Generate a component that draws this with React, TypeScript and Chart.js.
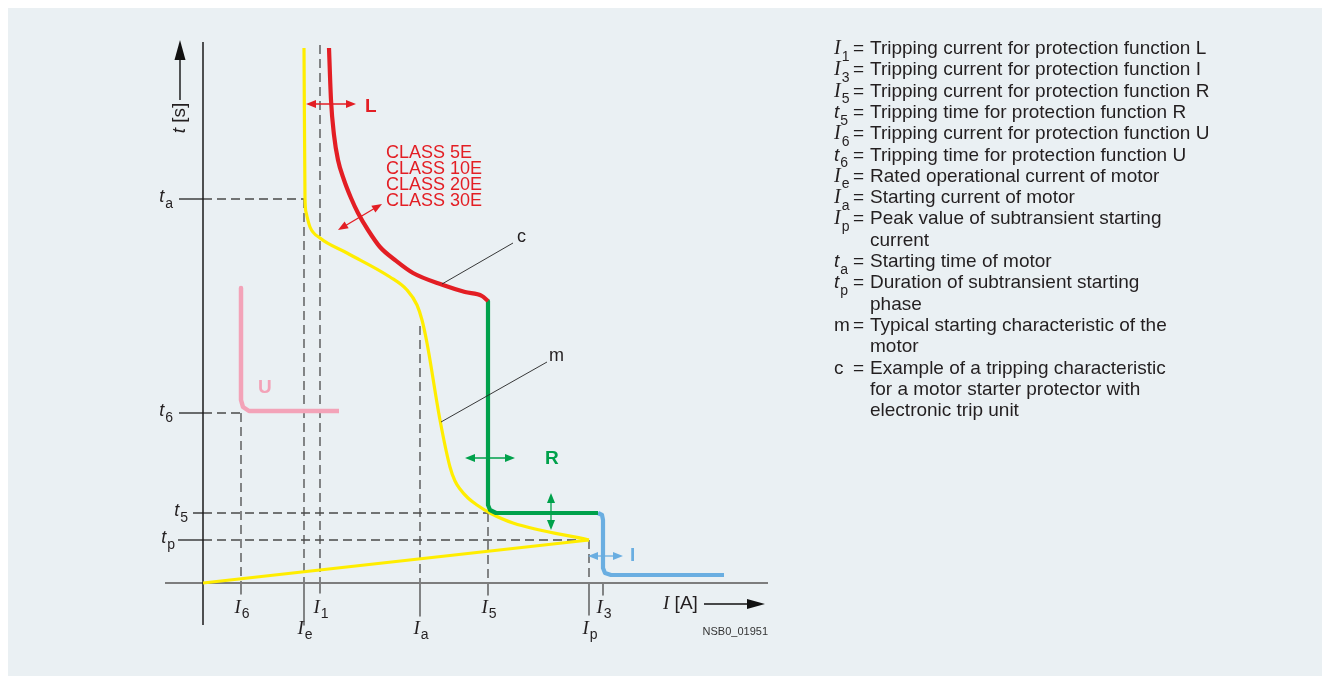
import { useEffect, useRef } from "react";
import { Chart, registerables } from "chart.js";

Chart.register(...registerables);

// ---------- data (schematic units: x = current, y = time; origin at axis crossing) ----------
const motorRise: number[][] = [[0, 0], [386, 43]];
const motorCurve: number[][] = [
  [386, 43], [310, 60], [287, 70], [274, 78], [265, 85], [257, 94], [252, 102], [247, 116],
  [237, 163], [224, 240], [219, 263], [214, 278], [204, 293], [187, 306], [144, 330],
  [117, 345], [107, 356], [103, 371], [102, 385], [101, 535],
];
const tripL: number[][] = [
  [126, 535], [128, 483], [131, 448], [135, 423], [141, 403], [148, 385], [155, 370],
  [165, 353], [177, 336], [192, 323], [210, 310], [240, 298], [262, 291], [279, 287], [285, 282],
];
const tripR: number[][] = [[285, 282], [285, 78], [287, 73], [293, 70], [395, 70]];
const tripI: number[][] = [[395, 70], [399, 68], [400, 63], [400, 15], [402, 10], [408, 8], [521, 8]];
const tripU: number[][] = [[38, 295], [38, 183], [40, 176], [46, 172], [136, 172]];

const xMarkLabels = ["6", "e", "1", "a", "5", "p", "3"];
const xMarkValues = [38, 101, 117, 217, 285, 386, 400];
const xGuideTops = [170, 384, 538, 257, 70, 43, 0];
const xTickDepth = [-11, -42, -10, -33, -12, -32, -12];
const xLabelRow = [0, 1, 0, 1, 0, 1, 0];

const yMarkLabels = ["a", "6", "5", "p"];
const yMarkValues = [384, 170, 70, 43];
const yGuideEnds = [101, 38, 285, 386];
const yTickStart = [-24, -24, -10, -25];
const yLabelRight = [-30, -30, -15, -28];

const classLabels = ["CLASS 5E", "CLASS 10E", "CLASS 20E", "CLASS 30E"];

const legendRows: string[][] = [
  ["I", "1", "Tripping current for protection function L"],
  ["I", "3", "Tripping current for protection function I"],
  ["I", "5", "Tripping current for protection function R"],
  ["t", "5", "Tripping time for protection function R"],
  ["I", "6", "Tripping current for protection function U"],
  ["t", "6", "Tripping time for protection function U"],
  ["I", "e", "Rated operational current of motor"],
  ["I", "a", "Starting current of motor"],
  ["I", "p", "Peak value of subtransient starting"],
  ["", "", "current"],
  ["t", "a", "Starting time of motor"],
  ["t", "p", "Duration of subtransient starting"],
  ["", "", "phase"],
  ["m", "", "Typical starting characteristic of the"],
  ["", "", "motor"],
  ["c", "", "Example of a tripping characteristic"],
  ["", "", "for a motor starter protector with"],
  ["", "", "electronic trip unit"],
];

// ---------- styles ----------
const BG = "#eaf0f3";
const RED = "#e31e24";
const GREEN = "#00a14b";
const BLUE = "#6aaee1";
const PINK = "#f3a3b8";
const YELLOW = "#ffed00";
const DASH = "#4a4a4a";
const TEXT = "#231f20";
const SANS = '"Liberation Sans", Arial, sans-serif';
const SERIF = '"Liberation Serif", "Times New Roman", serif';

const pts = (a: number[][]) => a.map(([x, y]) => ({ x, y }));

function seg(data: number[][], color: string, width: number, extra: any = {}) {
  return {
    data: pts(data),
    showLine: true,
    pointRadius: 0,
    borderColor: color,
    backgroundColor: color,
    borderWidth: width,
    tension: 0,
    borderJoinStyle: "round",
    ...extra,
  };
}

function buildDatasets() {
  const ds: any[] = [];
  // dashed guides
  xMarkValues.forEach((x, i) => {
    if (xGuideTops[i] > 0) ds.push(seg([[x, xGuideTops[i]], [x, 0]], DASH, 1.3, { borderDash: [9, 5], order: 20 }));
    ds.push(seg([[x, 0], [x, xTickDepth[i]]], DASH, 1.3, { order: 20 }));
  });
  yMarkValues.forEach((y, i) => {
    ds.push(seg([[0, y], [yGuideEnds[i], y]], DASH, 1.3, { borderDash: [9, 5], order: 20 }));
    ds.push(seg([[yTickStart[i], y], [0, y]], "#222", 1.3, { order: 20 }));
  });
  // axes
  ds.push(seg([[0, -42], [0, 541]], "#1a1a1a", 1.5, { order: 15 }));
  ds.push(seg([[-38, 0], [565, 0]], "#7d7d7d", 2, { order: 15 }));
  // leader lines
  ds.push(seg([[239, 299], [310, 340]], "#222", 0.9, { order: 1 }));
  ds.push(seg([[238, 161], [344, 221]], "#222", 0.9, { order: 1 }));
  // curves
  ds.push(seg(motorRise, YELLOW, 3.2, { order: 5 }));
  ds.push(seg(motorCurve, YELLOW, 3.2, { order: 5, cubicInterpolationMode: "monotone" }));
  ds.push(seg(tripU, PINK, 4.5, { order: 4 }));
  ds.push(seg(tripL, RED, 4.2, { order: 3, cubicInterpolationMode: "monotone" }));
  ds.push(seg(tripR, GREEN, 4.2, { order: 3 }));
  ds.push(seg(tripI, BLUE, 4.2, { order: 3 }));
  return ds;
}

// ---------- drawing helpers ----------
function head(ctx: CanvasRenderingContext2D, x1: number, y1: number, x2: number, y2: number, len: number, half: number) {
  const a = Math.atan2(y2 - y1, x2 - x1);
  ctx.beginPath();
  ctx.moveTo(x2, y2);
  ctx.lineTo(x2 - len * Math.cos(a) + half * Math.sin(a), y2 - len * Math.sin(a) - half * Math.cos(a));
  ctx.lineTo(x2 - len * Math.cos(a) - half * Math.sin(a), y2 - len * Math.sin(a) + half * Math.cos(a));
  ctx.closePath();
  ctx.fill();
}

function dblArrow(ctx: CanvasRenderingContext2D, x1: number, y1: number, x2: number, y2: number, color: string) {
  ctx.strokeStyle = color;
  ctx.fillStyle = color;
  ctx.lineWidth = 1.3;
  const a = Math.atan2(y2 - y1, x2 - x1);
  ctx.beginPath();
  ctx.moveTo(x1 + 6 * Math.cos(a), y1 + 6 * Math.sin(a));
  ctx.lineTo(x2 - 6 * Math.cos(a), y2 - 6 * Math.sin(a));
  ctx.stroke();
  head(ctx, x1, y1, x2, y2, 10, 4);
  head(ctx, x2, y2, x1, y1, 10, 4);
}

function sym(
  ctx: CanvasRenderingContext2D, main: string, sub: string, x: number, y: number,
  align: "left" | "center" | "right", mainFont: string, subFont: string, subDy: number
) {
  ctx.textAlign = "left";
  ctx.font = mainFont;
  const w1 = ctx.measureText(main).width;
  ctx.font = subFont;
  const w2 = sub ? ctx.measureText(sub).width : 0;
  const gap = sub ? 1 : 0;
  const total = w1 + gap + w2;
  const x0 = align === "center" ? x - total / 2 : align === "right" ? x - total : x;
  ctx.font = mainFont;
  ctx.fillText(main, x0, y);
  if (sub) {
    ctx.font = subFont;
    ctx.fillText(sub, x0 + w1 + gap, y + subDy);
  }
}

const doubleArrows = [
  { a: [103, 479], b: [153, 479], c: RED },
  { a: [135, 353], b: [179, 379], c: RED },
  { a: [262, 125], b: [312, 125], c: GREEN },
  { a: [348, 90], b: [348, 53], c: GREEN },
  { a: [385, 27], b: [420, 27], c: BLUE },
];

const overlay = {
  id: "overlay",
  afterDatasetsDraw(chart: any) {
    const ctx: CanvasRenderingContext2D = chart.ctx;
    const xs = chart.scales.x;
    const ys = chart.scales.y;
    const X = (v: number) => xs.getPixelForValue(v);
    const Y = (v: number) => ys.getPixelForValue(v);
    ctx.save();

    // arrows
    doubleArrows.forEach((d) => dblArrow(ctx, X(d.a[0]), Y(d.a[1]), X(d.b[0]), Y(d.b[1]), d.c));

    // axis arrows
    ctx.strokeStyle = "#111";
    ctx.fillStyle = "#111";
    ctx.lineWidth = 1.4;
    ctx.beginPath();
    ctx.moveTo(X(-23), Y(483));
    ctx.lineTo(X(-23), Y(528));
    ctx.stroke();
    head(ctx, X(-23), Y(483), X(-23), Y(543), 20, 5.5);
    ctx.beginPath();
    ctx.moveTo(X(501), Y(-21));
    ctx.lineTo(X(548), Y(-21));
    ctx.stroke();
    head(ctx, X(501), Y(-21), X(562), Y(-21), 18, 5);

    ctx.textBaseline = "middle";
    // function letters
    ctx.font = `bold 19px ${SANS}`;
    ctx.textAlign = "left";
    ctx.fillStyle = RED;
    ctx.fillText("L", X(162), Y(476));
    ctx.fillStyle = PINK;
    ctx.fillText("U", X(55), Y(195));
    ctx.fillStyle = GREEN;
    ctx.fillText("R", X(342), Y(124));
    ctx.fillStyle = BLUE;
    ctx.fillText("I", X(427), Y(27));

    // class labels
    ctx.fillStyle = RED;
    ctx.font = `18px ${SANS}`;
    classLabels.forEach((t, i) => ctx.fillText(t, X(183), Y(430 - 16 * i)));

    // c / m
    ctx.fillStyle = TEXT;
    ctx.font = `18px ${SANS}`;
    ctx.fillText("c", X(314), Y(346));
    ctx.fillText("m", X(346), Y(227));

    // x marker labels
    xMarkValues.forEach((x, i) => {
      const cy = xLabelRow[i] === 0 ? 600 : 621; // canvas y of cap centre
      sym(ctx, "I", xMarkLabels[i], X(x) + 1, cy, "center", `italic 19px ${SERIF}`, `14px ${SANS}`, 6);
    });
    // y marker labels
    ctx.textBaseline = "alphabetic";
    yMarkValues.forEach((y, i) => {
      sym(ctx, "t", yMarkLabels[i], X(yLabelRight[i]), Y(y) + 3, "right", `italic 18px ${SANS}`, `14px ${SANS}`, 6);
    });

    // axis titles
    ctx.textBaseline = "middle";
    ctx.fillStyle = TEXT;
    ctx.save();
    ctx.translate(X(-23), Y(465));
    ctx.rotate(-Math.PI / 2);
    ctx.font = `italic 19px ${SANS}`;
    const wt = ctx.measureText("t").width;
    ctx.font = `19px ${SANS}`;
    const ws = ctx.measureText(" [s]").width;
    ctx.font = `italic 19px ${SANS}`;
    ctx.textAlign = "left";
    ctx.fillText("t", -(wt + ws) / 2, 0);
    ctx.font = `19px ${SANS}`;
    ctx.fillText(" [s]", -(wt + ws) / 2 + wt, 0);
    ctx.restore();

    ctx.textAlign = "left";
    ctx.font = `italic 19px ${SERIF}`;
    ctx.fillText("I", X(460), Y(-21));
    const wi = ctx.measureText("I").width;
    ctx.font = `19px ${SANS}`;
    ctx.fillText(" [A]", X(460) + wi, Y(-21));

    ctx.font = `11px ${SANS}`;
    ctx.fillStyle = "#333";
    ctx.textAlign = "right";
    ctx.fillText("NSB0_01951", X(565), Y(-49));

    // legend block
    ctx.fillStyle = TEXT;
    legendRows.forEach(([s, sub, desc], k) => {
      const cy = 40.8 + 21.3 * k;
      if (s) {
        const f = s === "I" ? `italic 20px ${SERIF}` : s === "t" ? `italic 19px ${SANS}` : `19px ${SANS}`;
        sym(ctx, s, sub, 826, cy, "left", f, `14px ${SANS}`, 8);
        ctx.font = `19px ${SANS}`;
        ctx.textAlign = "left";
        ctx.fillText("=", 845, cy);
      }
      ctx.font = `19px ${SANS}`;
      ctx.textAlign = "left";
      ctx.fillText(desc, 862, cy);
    });

    ctx.restore();
  },
};

export default function App() {
  const ref = useRef<HTMLCanvasElement>(null);
  useEffect(() => {
    const chart = new Chart(ref.current as HTMLCanvasElement, {
      type: "scatter",
      data: { datasets: buildDatasets() },
      options: {
        animation: false,
        responsive: false,
        events: [],
        layout: { padding: 0 },
        plugins: { legend: { display: false }, tooltip: { enabled: false } },
        scales: {
          x: { type: "linear", min: -195, max: 1119, display: false },
          y: { type: "linear", min: -93, max: 575, display: false },
        },
      },
      plugins: [overlay],
    } as any);
    return () => chart.destroy();
  }, []);
  return (
    <div style={{ width: 1314, height: 668, background: BG }}>
      <canvas ref={ref} width={1314} height={668} style={{ display: "block" }} />
    </div>
  );
}
